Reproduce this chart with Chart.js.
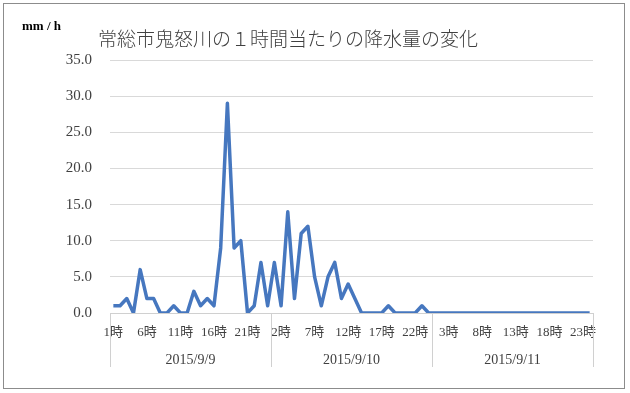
<!DOCTYPE html>
<html lang="ja">
<head>
    <meta charset="UTF-8">
    <title>常総市鬼怒川の1時間当たりの降水量の変化</title>
    <script src="https://cdn.jsdelivr.net/npm/chart.js"></script>
    <style>
        body { margin: 0; background: #ffffff; }
        #wrap { position: relative; width: 630px; height: 393px; }
    </style>
</head>
<body>
    <div id="wrap"><canvas id="rainChart" width="630" height="393"></canvas></div>

    <script>
        // hourly rainfall (mm/h)
        const dates = ['2015/9/9', '2015/9/10', '2015/9/11'];
        const hours = ['1時', '2時', '3時', '4時', '5時', '6時', '7時', '8時', '9時', '10時', '11時', '12時',
                       '13時', '14時', '15時', '16時', '17時', '18時', '19時', '20時', '21時', '22時', '23時', '24時'];
        const rainDay1 = [1, 1, 2, 0, 6, 2, 2, 0, 0, 1, 0, 0, 3, 1, 2, 1, 9, 29, 9, 10, 0, 1, 7, 1];
        const rainDay2 = [7, 1, 14, 2, 11, 12, 5, 1, 5, 7, 2, 4, 2, 0, 0, 0, 0, 1, 0, 0, 0, 0, 1, 0];
        const rainDay3 = [0, 0, 0, 0, 0, 0, 0, 0, 0, 0, 0, 0, 0, 0, 0, 0, 0, 0, 0, 0, 0, 0, 0, 0];
        const yTicks = [0, 5, 10, 15, 20, 25, 30, 35];

        const labels = [...hours, ...hours, ...hours];
        const values = [...rainDay1, ...rainDay2, ...rainDay3];

        const serif = '"Liberation Serif", "DejaVu Serif", "Noto Sans CJK JP", serif';

        // frame, title, unit label and the day separators under the axis
        const decor = {
            id: 'decor',
            beforeDraw(chart) {
                const ctx = chart.ctx;
                ctx.save();
                ctx.strokeStyle = '#8c8c8c';
                ctx.lineWidth = 1;
                ctx.strokeRect(3.5, 3.5, 621, 385);
                ctx.restore();
            },
            afterDraw(chart) {
                const ctx = chart.ctx;
                const area = chart.chartArea;
                const x2 = chart.scales.x2;
                ctx.save();
                ctx.fillStyle = '#404040';
                ctx.font = '300 19px "Noto Sans CJK JP", sans-serif';
                ctx.textAlign = 'left';
                ctx.textBaseline = 'middle';
                ctx.fillText('常総市鬼怒川の１時間当たりの降水量の変化', 98, 39);

                ctx.fillStyle = '#000000';
                ctx.font = 'bold 13px ' + serif;
                ctx.fillText('mm / h', 22, 27);

                ctx.strokeStyle = '#d0d0d0';
                ctx.lineWidth = 1;
                const step = x2.width / dates.length;
                for (let k = 0; k <= dates.length; k++) {
                    const px = Math.round(x2.left + k * step) + 0.5;
                    ctx.beginPath();
                    ctx.moveTo(px, area.bottom);
                    ctx.lineTo(px, x2.bottom - 1);
                    ctx.stroke();
                }
                ctx.restore();
            }
        };

        new Chart(document.getElementById('rainChart'), {
            type: 'line',
            data: {
                labels: labels,
                datasets: [{
                    data: values,
                    borderColor: '#4677bf',
                    borderWidth: 3.5,
                    borderJoinStyle: 'round',
                    pointRadius: 0,
                    tension: 0,
                    fill: false
                }]
            },
            options: {
                responsive: false,
                animation: false,
                layout: { padding: { left: 20, right: 37, top: 60, bottom: 25 } },
                plugins: {
                    legend: { display: false },
                    tooltip: { enabled: false }
                },
                scales: {
                    y: {
                        min: 0,
                        max: 35,
                        afterBuildTicks: s => { s.ticks = yTicks.map(v => ({ value: v })); },
                        afterFit: s => { s.width = 90; },
                        grid: { color: '#d9d9d9', drawTicks: false },
                        border: { display: false },
                        ticks: {
                            padding: 18,
                            color: '#404040',
                            font: { family: serif, size: 15 },
                            callback: v => v.toFixed(1)
                        }
                    },
                    x: {
                        type: 'category',
                        offset: true,
                        weight: 0,
                        afterFit: s => { s.height = 30; },
                        grid: { display: false, drawTicks: false },
                        border: { display: true, color: '#d0d0d0', width: 1 },
                        ticks: {
                            autoSkip: false,
                            maxRotation: 0,
                            padding: 12,
                            color: '#404040',
                            font: { family: serif, size: 13 },
                            callback: (v, i) => (i % 5 === 0 ? labels[i] : '')
                        }
                    },
                    x2: {
                        type: 'category',
                        position: 'bottom',
                        labels: dates,
                        offset: true,
                        weight: 1,
                        afterFit: s => { s.height = 25; },
                        grid: { display: false, drawTicks: false },
                        border: { display: false },
                        ticks: {
                            maxRotation: 0,
                            padding: 9,
                            color: '#404040',
                            font: { family: serif, size: 14 }
                        }
                    }
                }
            },
            plugins: [decor]
        });
    </script>
</body>
</html>
